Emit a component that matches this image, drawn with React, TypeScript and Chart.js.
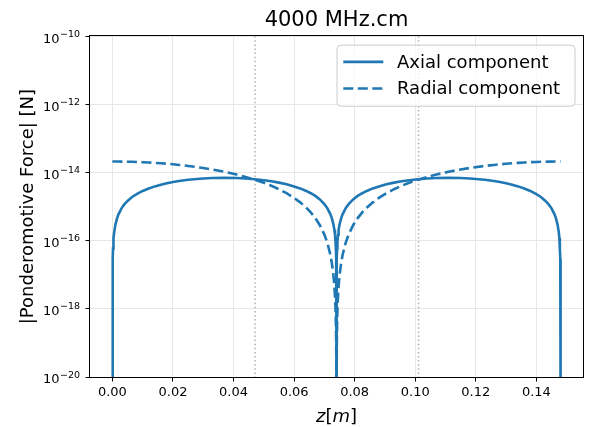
import React, { useEffect, useRef } from 'react';
import { Chart, registerables } from 'chart.js';

Chart.register(...registerables);

const TITLE = '4000 MHz.cm';
const Y_TITLE = '|Ponderomotive Force| [N]';
const SERIES_LABELS = ['Axial component', 'Radial component'];

// z positions [m]
const Z = [
  0, 0.0001, 0.0002, 0.0003, 0.0004, 0.0006, 0.001, 0.0015, 0.002, 0.003, 0.004, 0.005, 0.0065,
  0.008, 0.01, 0.012, 0.014, 0.016, 0.018, 0.02, 0.022, 0.025, 0.03, 0.033, 0.037, 0.041, 0.044,
  0.047, 0.05, 0.0525, 0.055, 0.0575, 0.06, 0.062, 0.064, 0.0655, 0.067, 0.0685, 0.07, 0.071, 0.072,
  0.0725, 0.073, 0.0733, 0.0735, 0.0737, 0.0738, 0.0739, 0.074,
  0.0741, 0.0742, 0.0743, 0.0745, 0.0747, 0.075, 0.0755, 0.076, 0.077, 0.078, 0.0795, 0.081, 0.0825,
  0.084, 0.086, 0.088, 0.0905, 0.093, 0.0955, 0.098, 0.101, 0.104, 0.107, 0.111, 0.115, 0.118, 0.123,
  0.126, 0.128, 0.13, 0.132, 0.134, 0.136, 0.138, 0.14, 0.1415, 0.143, 0.144, 0.145, 0.146, 0.1465,
  0.147, 0.1474, 0.1476, 0.1477, 0.1478, 0.1479, 0.148,
];

// |F| axial [N]
const AXIAL = [
  1e-21, 2.97e-17, 5.94e-17, 8.9e-17, 1.19e-16, 1.78e-16, 2.97e-16, 4.45e-16, 5.94e-16, 8.9e-16,
  1.18e-15, 1.47e-15, 1.91e-15, 2.33e-15, 2.88e-15, 3.41e-15, 3.92e-15, 4.4e-15, 4.84e-15, 5.25e-15,
  5.63e-15, 6.11e-15, 6.69e-15, 6.9e-15, 7.0e-15, 6.9e-15, 6.69e-15, 6.38e-15, 5.96e-15, 5.54e-15,
  5.05e-15, 4.5e-15, 3.91e-15, 3.42e-15, 2.88e-15, 2.47e-15, 2.06e-15, 1.62e-15, 1.18e-15, 8.9e-16,
  5.94e-16, 4.45e-16, 2.97e-16, 2.08e-16, 1.49e-16, 8.9e-17, 5.9e-17, 3.0e-17, 1e-21,
  3.0e-17, 5.9e-17, 8.9e-17, 1.49e-16, 2.08e-16, 2.97e-16, 4.45e-16, 5.94e-16, 8.9e-16, 1.18e-15,
  1.62e-15, 2.06e-15, 2.47e-15, 2.88e-15, 3.42e-15, 3.91e-15, 4.5e-15, 5.05e-15, 5.54e-15, 5.96e-15,
  6.38e-15, 6.69e-15, 6.9e-15, 7.0e-15, 6.9e-15, 6.69e-15, 6.11e-15, 5.63e-15, 5.25e-15, 4.84e-15,
  4.4e-15, 3.92e-15, 3.41e-15, 2.88e-15, 2.33e-15, 1.91e-15, 1.47e-15, 1.18e-15, 8.9e-16, 5.94e-16,
  4.45e-16, 2.97e-16, 1.78e-16, 1.19e-16, 8.9e-17, 5.94e-17, 2.97e-17, 1e-21,
];

// |F| radial [N]
const RADIAL = [
  2.1e-14, 2.1e-14, 2.1e-14, 2.1e-14, 2.1e-14, 2.1e-14, 2.1e-14, 2.1e-14, 2.1e-14, 2.09e-14,
  2.085e-14, 2.08e-14, 2.06e-14, 2.04e-14, 2.01e-14, 1.97e-14, 1.92e-14, 1.87e-14, 1.81e-14, 1.74e-14,
  1.67e-14, 1.56e-14, 1.36e-14, 1.23e-14, 1.05e-14, 8.72e-15, 7.4e-15, 6.18e-15, 4.98e-15, 4.08e-15,
  3.24e-15, 2.47e-15, 1.8e-15, 1.33e-15, 9.3e-16, 6.77e-16, 4.6e-16, 2.85e-16, 1.51e-16, 8.5e-17,
  3.8e-17, 2.1e-17, 9.5e-18, 4.6e-18, 2.4e-18, 8.5e-19, 3.8e-19, 9.5e-20, 1e-21,
  9.5e-20, 3.8e-19, 8.5e-19, 2.4e-18, 4.6e-18, 9.5e-18, 2.1e-17, 3.8e-17, 8.5e-17, 1.51e-16,
  2.85e-16, 4.6e-16, 6.77e-16, 9.3e-16, 1.33e-15, 1.8e-15, 2.47e-15, 3.24e-15, 4.08e-15, 4.98e-15,
  6.18e-15, 7.4e-15, 8.72e-15, 1.05e-14, 1.23e-14, 1.36e-14, 1.56e-14, 1.67e-14, 1.74e-14, 1.81e-14,
  1.87e-14, 1.92e-14, 1.97e-14, 2.01e-14, 2.04e-14, 2.06e-14, 2.08e-14, 2.085e-14, 2.09e-14, 2.1e-14,
  2.1e-14, 2.1e-14, 2.1e-14, 2.1e-14, 2.1e-14, 2.1e-14, 2.1e-14, 2.1e-14,
];

const MARKER_Z = [0.0471, 0.1011];

const X_MIN = -0.0074;
const X_MAX = 0.1554;
const Y_MIN = 1e-20;
const Y_MAX = 1e-10;

const X_TICKS = [0, 0.02, 0.04, 0.06, 0.08, 0.1, 0.12, 0.14];
const X_TICK_LABELS = ['0.00', '0.02', '0.04', '0.06', '0.08', '0.10', '0.12', '0.14'];
const Y_TICKS = [1e-20, 1e-18, 1e-16, 1e-14, 1e-12, 1e-10];
const Y_TICK_BASE = '10';
const Y_TICK_EXPONENTS = ['−20', '−18', '−16', '−14', '−12', '−10'];

const BLUE = '#1f77b4';
const FONT = '"DejaVu Sans", sans-serif';

const framePlugin = {
  id: 'mplFrame',
  afterDraw(chart: any) {
    const { ctx, chartArea: a } = chart;
    ctx.save();
    ctx.strokeStyle = '#000';
    ctx.lineWidth = 1;
    ctx.strokeRect(Math.round(a.left) - 0.5, Math.round(a.top) - 0.5, Math.round(a.right - a.left) + 1, Math.round(a.bottom - a.top) + 1);

    // y tick labels, mathtext style 10^n
    const ys = chart.scales.y;
    ctx.fillStyle = '#000';
    ctx.textBaseline = 'alphabetic';
    ctx.textAlign = 'right';
    const labelRight = a.left - 10;
    Y_TICKS.forEach((v, i) => {
      const py = ys.getPixelForValue(v);
      ctx.font = `9.5px ${FONT}`;
      const ew = ctx.measureText(Y_TICK_EXPONENTS[i]).width;
      ctx.fillText(Y_TICK_EXPONENTS[i], labelRight, py + 0.5);
      ctx.font = `13px ${FONT}`;
      ctx.fillText(Y_TICK_BASE, labelRight - ew - 0.5, py + 6.3);
    });

    // x-axis title: z[m] with italic letters
    const parts: [string, string][] = [['z', 'italic'], ['[', 'normal'], ['m', 'italic'], [']', 'normal']];
    let total = 0;
    const widths = parts.map(([t, s]) => {
      ctx.font = `${s} 18px ${FONT}`;
      const w = ctx.measureText(t).width;
      total += w;
      return w;
    });
    let x = (a.left + a.right) / 2 - total / 2;
    ctx.textAlign = 'left';
    parts.forEach(([t, s], i) => {
      ctx.font = `${s} 18px ${FONT}`;
      ctx.fillText(t, x, chart.height - 5.5);
      x += widths[i];
    });
    ctx.restore();
  },
};

const legendPlugin = {
  id: 'mplLegend',
  afterDatasetsDraw(chart: any) {
    const { ctx, chartArea: a } = chart;
    const left = a.left + 247;
    const top = a.top + 9;
    const w = 238;
    const h = 61;
    const r = 4;
    ctx.save();
    ctx.beginPath();
    ctx.moveTo(left + r, top);
    ctx.lineTo(left + w - r, top);
    ctx.quadraticCurveTo(left + w, top, left + w, top + r);
    ctx.lineTo(left + w, top + h - r);
    ctx.quadraticCurveTo(left + w, top + h, left + w - r, top + h);
    ctx.lineTo(left + r, top + h);
    ctx.quadraticCurveTo(left, top + h, left, top + h - r);
    ctx.lineTo(left, top + r);
    ctx.quadraticCurveTo(left, top, left + r, top);
    ctx.closePath();
    ctx.fillStyle = 'rgba(255,255,255,0.8)';
    ctx.fill();
    ctx.strokeStyle = '#cccccc';
    ctx.lineWidth = 1;
    ctx.stroke();
    const rows = [top + 16.7, top + 43.3];
    const dashes = [[], [10, 4.5]];
    SERIES_LABELS.forEach((label, i) => {
      ctx.beginPath();
      ctx.setLineDash(dashes[i]);
      ctx.strokeStyle = BLUE;
      ctx.lineWidth = 2.6;
      ctx.moveTo(left + 6.3, rows[i]);
      ctx.lineTo(left + 46.3, rows[i]);
      ctx.stroke();
      ctx.setLineDash([]);
      ctx.fillStyle = '#000';
      ctx.font = `18px ${FONT}`;
      ctx.textBaseline = 'middle';
      ctx.textAlign = 'left';
      ctx.fillText(label, left + 60, rows[i] + 1);
    });
    ctx.restore();
  },
};

export default function App() {
  const ref = useRef<HTMLCanvasElement | null>(null);

  useEffect(() => {
    if (!ref.current) return;
    const toXY = (vals: number[]) => Z.map((z, i) => ({ x: z, y: vals[i] }));
    const chart = new Chart(ref.current, {
      type: 'line',
      data: {
        datasets: [
          {
            label: SERIES_LABELS[0],
            data: toXY(AXIAL),
            borderColor: BLUE,
            backgroundColor: BLUE,
            borderWidth: 2.6,
            pointRadius: 0,
            tension: 0,
            clip: 0,
          },
          {
            label: SERIES_LABELS[1],
            data: toXY(RADIAL),
            borderColor: BLUE,
            backgroundColor: BLUE,
            borderWidth: 2.6,
            borderDash: [10, 4.5],
            pointRadius: 0,
            tension: 0,
            clip: 0,
          },
          ...MARKER_Z.map((m) => ({
            label: '',
            data: [
              { x: m, y: Y_MAX },
              { x: m, y: Y_MIN },
            ],
            borderColor: 'rgba(150,150,150,0.75)',
            borderWidth: 1.5,
            borderDash: [1.5, 2.6],
            pointRadius: 0,
            clip: 0,
          })),
        ],
      } as any,
      options: {
        animation: false,
        responsive: false,
        maintainAspectRatio: false,
        events: [],
        layout: { padding: { left: 0, right: 6, top: 0, bottom: 0 } },
        plugins: {
          legend: { display: false },
          tooltip: { enabled: false },
          title: {
            display: true,
            text: TITLE,
            fullSize: false,
            color: '#000',
            font: { family: FONT, size: 21, weight: 'normal' },
            padding: { top: 8, bottom: 3 },
          },
        },
        scales: {
          x: {
            type: 'linear',
            min: X_MIN,
            max: X_MAX,
            afterBuildTicks: (s: any) => {
              s.ticks = X_TICKS.map((v) => ({ value: v }));
            },
            afterFit: (s: any) => {
              s.height = 50;
            },
            ticks: {
              autoSkip: false,
              maxRotation: 0,
              padding: 3,
              color: '#000',
              font: { family: FONT, size: 13 },
              callback: (v: any, i: number) => X_TICK_LABELS[i],
            },
            grid: {
              color: '#e6e6e6',
              lineWidth: 1,
              drawTicks: true,
              tickLength: 4.5,
              tickColor: '#000',
              tickWidth: 1,
            },
            border: { display: false },
          },
          y: {
            type: 'logarithmic',
            min: Y_MIN,
            max: Y_MAX,
            afterBuildTicks: (s: any) => {
              s.ticks = Y_TICKS.map((v) => ({ value: v }));
            },
            afterFit: (s: any) => {
              s.width = 90;
            },
            ticks: {
              display: false,
              autoSkip: false,
            },
            grid: {
              color: '#e6e6e6',
              lineWidth: 1,
              drawTicks: true,
              tickLength: 4.5,
              tickColor: '#000',
              tickWidth: 1,
            },
            border: { display: false },
            title: {
              display: true,
              text: Y_TITLE,
              color: '#000',
              font: { family: FONT, size: 18 },
              padding: { top: 18, bottom: 0 },
            },
          },
        },
      } as any,
      plugins: [framePlugin, legendPlugin],
    });
    return () => chart.destroy();
  }, []);

  return (
    <div style={{ position: 'absolute', left: 0, top: 0, width: 589, height: 427, background: '#fff' }}>
      <canvas ref={ref} width={589} height={427} style={{ display: 'block' }} />
    </div>
  );
}
